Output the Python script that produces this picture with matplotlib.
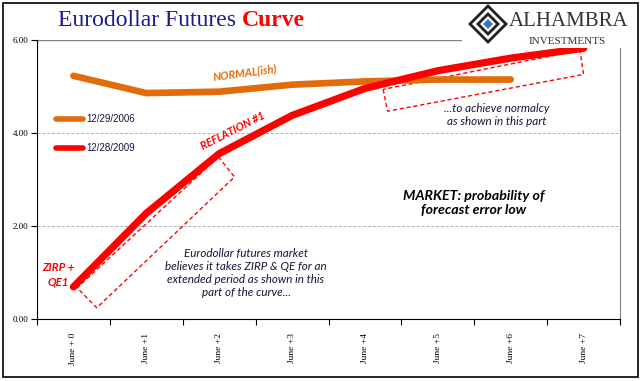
import numpy as np
import matplotlib
matplotlib.use('Agg')
import matplotlib.pyplot as plt
from matplotlib.patches import Polygon, Rectangle

# data
labels = ['June + 0', 'June +1', 'June +2', 'June +3', 'June +4', 'June +5', 'June +6', 'June +7']
curve_2006 = [5.22, 4.85, 4.88, 5.03, 5.10, 5.14, 5.14]
curve_2009 = [0.69, 2.27, 3.55, 4.37, 4.95, 5.33, 5.60, 5.81]
yticks = [0, 2, 4, 6]

W, H = 641, 381
fig = plt.figure(figsize=(W / 100, H / 100), dpi=100)

def px(x, y):
    return (x / W, 1 - y / H)

ax = fig.add_axes([37 / W, 1 - 319 / H, (620 - 37) / W, (319 - 39.5) / H])

sans = ['Lato', 'DejaVu Sans']
serif = ['Liberation Serif', 'DejaVu Serif']
navy = '#14143c'
orange = '#e36c0a'
red = '#ff0000'

x06 = np.arange(len(curve_2006))
x09 = np.arange(len(curve_2009))
ax.plot(x06, curve_2006, color=orange, lw=4.8, solid_capstyle='round', solid_joinstyle='round', zorder=3)
ax.plot(x09, curve_2009, color=red, lw=5.2, solid_capstyle='round', solid_joinstyle='round', zorder=4)

ax.set_xlim(-0.5, len(labels) - 0.5)
ax.set_ylim(0, 6)
ax.set_yticks(yticks)
ax.set_yticklabels(['%.2f' % v for v in yticks], fontfamily=serif, fontsize=6.5)
ax.set_xticks(np.arange(len(labels) + 1) - 0.5)
ax.set_xticklabels([])
ax.set_xticks(np.arange(len(labels)), minor=True)
ax.set_xticklabels(labels, minor=True, rotation=90, fontfamily=serif, fontsize=6.8)
ax.tick_params(axis='x', which='minor', length=0, pad=10)
ax.tick_params(axis='x', which='major', length=4, direction='out', width=0.8)
ax.tick_params(axis='y', length=4, direction='out', width=0.8, pad=2)

for v in [2, 4]:
    ax.axhline(v, color='#b0b0b0', lw=0.7, ls=(0, (3, 2)), zorder=1)
ax.axhline(6, color='#808080', lw=1.0, zorder=1)
ax.spines['top'].set_visible(False)
ax.spines['right'].set_color('#808080')
ax.spines['left'].set_color('black')
ax.spines['bottom'].set_color('black')

# dashed annotation boxes
box1 = [(1.99, 3.48), (2.21, 3.05), (0.32, 0.24), (0.05, 0.67)]
box2 = [(4.25, 4.93), (4.31, 4.46), (7.0, 5.25), (6.95, 5.77)]
for b in (box1, box2):
    ax.add_patch(Polygon(b, closed=True, fill=False, ec=red, lw=1.0, ls=(0, (3, 2)), zorder=2))

# legend drawn by hand
ax.plot([-0.24, 0.13], [4.29, 4.29], color=orange, lw=4, solid_capstyle='round', clip_on=False)
ax.text(0.17, 4.29, '12/29/2006', va='center', ha='left', fontsize=7, fontfamily=['Liberation Sans'], color=navy)
ax.plot([-0.24, 0.13], [3.67, 3.67], color=red, lw=4, solid_capstyle='round', clip_on=False)
ax.text(0.17, 3.67, '12/28/2009', va='center', ha='left', fontsize=7, fontfamily=['Liberation Sans'], color=navy)

# annotations
fig.text(*px(245, 73), 'NORMAL(ish)', color=orange, fontsize=8, fontweight='bold', style='italic',
         fontfamily=sans, rotation=7.5, ha='center', va='center')
fig.text(*px(233, 131), 'REFLATION #1', color=red, fontsize=7.8, fontweight='bold', style='italic',
         fontfamily=sans, rotation=27, ha='center', va='center')
fig.text(*px(58, 275), 'ZIRP +\nQE1', color=red, fontsize=8.3, fontweight='bold', style='italic',
         fontfamily=sans, ha='center', va='center', linespacing=1.4)
fig.text(*px(246, 273), 'Eurodollar futures market\nbelieves it takes ZIRP & QE for an\nextended period as shown in this\npart of the curve...',
         color=navy, fontsize=8.4, style='italic', fontfamily=sans, ha='center', va='center', linespacing=1.2)
fig.text(*px(497, 115), '...to achieve normalcy\nas shown in this part', color=navy, fontsize=8.4,
         style='italic', fontfamily=sans, ha='center', va='center', linespacing=1.25)
fig.text(*px(474, 203), 'MARKET: probability of\nforecast error low', color='black', fontsize=10.2,
         fontweight='bold', style='italic', fontfamily=sans, ha='center', va='center', linespacing=1.2)

# title
t1 = fig.text(*px(58, 20), 'Eurodollar Futures ', color='#1c1c8c', fontsize=17, fontfamily=serif,
              ha='left', va='center')
fig.canvas.draw()
bb = t1.get_window_extent()
fig.text(bb.x1 / W, 1 - 20 / H, 'Curve', color=red, fontsize=17, fontweight='bold', fontfamily=serif,
         ha='left', va='center')

# logo
fig.patches.append(Rectangle(px(462, 48), 175 / W, 44 / H, transform=fig.transFigure, fc='white', ec='none', zorder=5))
cx, cy = 488, 24
for s, col in [(20, '#222222'), (16, 'white'), (12, '#222222'), (8, 'white'), (5, '#3b74c4')]:
    pts = [px(cx, cy - s), px(cx + s, cy), px(cx, cy + s), px(cx - s, cy)]
    fig.patches.append(Polygon(pts, closed=True, transform=fig.transFigure, fc=col, ec='none', zorder=6))
fig.text(*px(569, 21), 'ALHAMBRA', color='#333333', fontsize=15, fontfamily=serif, ha='center', va='center', zorder=7)
fig.text(*px(567, 41), 'INVESTMENTS', color='#333333', fontsize=8, fontfamily=serif, ha='center', va='center', zorder=7)

# outer frame
fig.patches.append(Rectangle((3 / W, 1 - 377 / H), 635 / W, 374 / H, transform=fig.transFigure,
                             fill=False, ec='black', lw=1.2, zorder=0))

fig.savefig('out.png', dpi=100)
